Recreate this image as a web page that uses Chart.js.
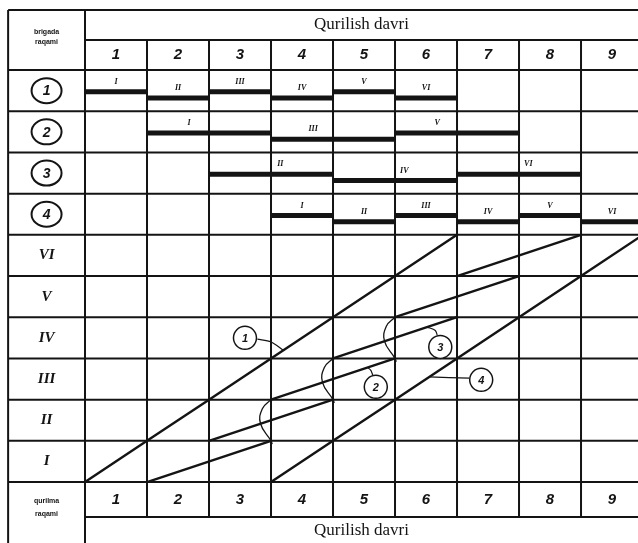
<!DOCTYPE html>
<html lang="uz">
<head>
<meta charset="UTF-8">
<title>Qurilish davri</title>
<style>
  html, body { margin: 0; padding: 0; background: #fff; overflow: hidden; }
  #wrap { width: 638px; height: 543px; }
</style>
</head>
<body>
<div id="wrap"><canvas id="cyclo"></canvas></div>
<script src="https://cdn.jsdelivr.net/npm/chart.js@4/dist/chart.umd.min.js"></script>
<script>
// davrlar, obyektlar, brigadalar
const periods = ['1', '2', '3', '4', '5', '6', '7', '8', '9'];
const objects = ['I', 'II', 'III', 'IV', 'V', 'VI'];
const brigades = ['1', '2', '3', '4'];

// har bir brigada ishi: [boshlanish, tugash] (davr chegaralari) va obyekt raqami
const brig1Work = [[0, 1], [1, 2], [2, 3], [3, 4], [4, 5], [5, 6]];
const brig1Obj = [1, 2, 3, 4, 5, 6];
const brig2Work = [[1, 3], [3, 5], [5, 7]];
const brig2Obj = [1, 3, 5];
const brig3Work = [[2, 4], [4, 6], [6, 8]];
const brig3Obj = [2, 4, 6];
const brig4Work = [[3, 4], [4, 5], [5, 6], [6, 7], [7, 8], [8, 9]];
const brig4Obj = [1, 2, 3, 4, 5, 6];

// ko'rinib turgan o'tish qavslari: brigada, davr
const jumpBrig = [2, 3, 2];
const jumpAt = [3, 4, 5];

// siklogramma belgilari (brigada raqami, qaysi ish)
const markBrig = ['1', '3', '2', '4'];
const markWork = [3, 1, 1, 2];

const works = [brig1Work, brig2Work, brig3Work, brig4Work];
const objs = [brig1Obj, brig2Obj, brig3Obj, brig4Obj];

// jadval chegaralari (o'q birliklarida)
const T_LEFT = -1.24, T_RIGHT = 9.2;
const Y_TOP = 11.46, Y_TITLE = 10.73, Y_HEAD = 10, Y_BNUM = -0.85, Y_BOT = -1.7;
const INK = '#141414';
// Gantt yozuvlari ish boshidan qancha siljigan
const labelShift = [0.5, 0.68, 1.15, 0.5];

// Gantt chiziqlari
const ganttSets = works.map((w, b) => {
  const rowBase = Y_HEAD - 1 - b;
  const pts = [];
  w.forEach((p, i) => {
    const yy = rowBase + (i % 2 === 0 ? 0.47 : 0.32);
    pts.push({x: p[0], y: yy}, {x: p[1], y: yy}, {x: p[1], y: null});
  });
  return {data: pts, borderColor: INK, borderWidth: 5, pointRadius: 0, spanGaps: false, borderCapStyle: 'butt'};
});

// siklogramma chiziqlari
const cycloSets = works.map((w, b) => {
  const pts = [];
  w.forEach((p, i) => {
    const o = objs[b][i];
    if (i > 0 && objs[b][i - 1] !== o - 1) pts.push({x: p[0], y: null});
    pts.push({x: p[0], y: o - 1}, {x: p[1], y: o});
  });
  return {data: pts, borderColor: INK, borderWidth: 2.4, pointRadius: 0, spanGaps: false};
});

// o'tish qavslari
const bracketSets = jumpAt.map((t, k) => {
  const b = jumpBrig[k] - 1;
  const i = works[b].findIndex(p => p[1] === t);
  const a = objs[b][i], c = objs[b][i + 1] - 1;
  return {
    data: [{x: t + 0.02, y: a - 0.08}, {x: t, y: a}, {x: t - 0.17, y: a + 0.42}, {x: t - 0.14, y: a + 0.78}, {x: t, y: c}],
    borderColor: INK, borderWidth: 1.3, pointRadius: 0, tension: 0.45
  };
});

// belgilarning joylashuvi (doira markazi) va ko'rsatkich chiziqlar
const markPos = [[2.58, 3.5], [5.73, 3.28], [4.69, 2.31], [6.39, 2.48]];
const markHit = [3.2, 5.52, 4.56, 5.55];
const leaderSets = markPos.map((m, k) => {
  const b = Number(markBrig[k]) - 1;
  const p = works[b][markWork[k]];
  const o = objs[b][markWork[k]];
  // chiziq ustidagi nuqta
  const tt = markHit[k];
  const yy = (o - 1) + (tt - p[0]) / (p[1] - p[0]);
  let pts;
  if (k === 0) pts = [{x: m[0] + 0.2, y: m[1] - 0.03}, {x: m[0] + 0.42, y: m[1] - 0.1}, {x: tt, y: yy}];
  else if (k === 3) pts = [{x: m[0] - 0.19, y: m[1] + 0.04}, {x: tt, y: yy}];
  else pts = [{x: m[0] - 0.05, y: m[1] + 0.29}, {x: m[0] - 0.08, y: m[1] + 0.4}, {x: tt, y: yy}];
  return {data: pts, borderColor: INK, borderWidth: 1.2, pointRadius: 0, tension: 0.3};
});

const tablePlugin = {
  id: 'table',
  beforeDatasetsDraw(chart) {
    const {ctx, scales: {x, y}} = chart;
    const X = v => x.getPixelForValue(v), Y = v => y.getPixelForValue(v);
    const seg = (x1, y1, x2, y2) => {
      ctx.beginPath(); ctx.moveTo(X(x1), Y(y1)); ctx.lineTo(X(x2), Y(y2)); ctx.stroke();
    };
    ctx.save();
    ctx.fillStyle = '#fff';
    ctx.fillRect(0, 0, chart.width, chart.height);
    ctx.strokeStyle = INK;
    ctx.lineWidth = 2;
    seg(T_LEFT, Y_TOP, T_RIGHT, Y_TOP);
    seg(0, Y_TITLE, T_RIGHT, Y_TITLE);
    for (let r = 0; r <= 10; r++) seg(T_LEFT, r, T_RIGHT, r);
    seg(0, Y_BNUM, T_RIGHT, Y_BNUM);
    seg(T_LEFT, Y_TOP, T_LEFT, Y_BOT);
    seg(0, Y_TOP, 0, Y_BOT);
    for (let c = 1; c <= periods.length; c++) seg(c, Y_TITLE, c, Y_BNUM);
    ctx.restore();
  },
  afterDatasetsDraw(chart) {
    const {ctx, scales: {x, y}} = chart;
    const X = v => x.getPixelForValue(v), Y = v => y.getPixelForValue(v);
    ctx.save();
    ctx.fillStyle = INK;
    ctx.strokeStyle = INK;
    ctx.textAlign = 'center';
    ctx.textBaseline = 'middle';
    const midTbl = (0 + x.max) / 2;
    ctx.font = '17px "Liberation Serif"';
    ctx.fillText('Qurilish davri', X(midTbl), Y((Y_TOP + Y_TITLE) / 2));
    ctx.fillText('Qurilish davri', X(midTbl), Y(Y_BNUM - 0.33));
    ctx.font = 'italic 600 15px "Liberation Sans"';
    periods.forEach((p, i) => {
      ctx.fillText(p, X(i + 0.5), Y((Y_TITLE + Y_HEAD) / 2));
      ctx.fillText(p, X(i + 0.5), Y(Y_BNUM / 2));
    });
    const cx = X(T_LEFT / 2);
    // chap ustun
    ctx.font = 'bold 7px "Liberation Sans"';
    ctx.fillText('brigada', cx, Y(10.93));
    ctx.fillText('raqami', cx, Y(10.68));
    ctx.fillText('qurilma', cx, Y(-0.45));
    ctx.fillText('raqami', cx, Y(-0.78));
    brigades.forEach((b, i) => {
      const cy = Y(Y_HEAD - 0.5 - i);
      ctx.lineWidth = 2;
      ctx.beginPath(); ctx.ellipse(cx, cy, 15, 12.5, 0, 0, Math.PI * 2); ctx.stroke();
      ctx.font = 'italic bold 14px "Liberation Sans"';
      ctx.fillText(b, cx, cy + 1);
    });
    ctx.font = 'italic bold 15px "Liberation Serif"';
    objects.forEach((o, i) => ctx.fillText(o, cx, Y(i + 0.5)));
    // Gantt belgilari
    ctx.font = 'italic bold 8px "Liberation Serif"';
    works.forEach((w, b) => {
      const rowBase = Y_HEAD - 1 - b;
      w.forEach((p, i) => {
        const yy = rowBase + (i % 2 === 0 ? 0.47 : 0.32);
        ctx.fillText(objects[objs[b][i] - 1], X(p[0] + labelShift[b]), Y(yy + 0.24));
      });
    });
    // siklogramma doiralari
    markPos.forEach((m, k) => {
      const px = X(m[0]), py = Y(m[1]);
      ctx.fillStyle = '#fff';
      ctx.beginPath(); ctx.arc(px, py, 11.5, 0, Math.PI * 2); ctx.fill();
      ctx.lineWidth = 1.5;
      ctx.beginPath(); ctx.arc(px, py, 11.5, 0, Math.PI * 2); ctx.stroke();
      ctx.fillStyle = INK;
      ctx.font = 'italic bold 11px "Liberation Sans"';
      ctx.fillText(markBrig[k], px, py + 1);
    });
    ctx.restore();
  }
};

new Chart(document.getElementById('cyclo'), {
  type: 'line',
  data: {datasets: [...ganttSets, ...cycloSets, ...bracketSets, ...leaderSets]},
  options: {
    responsive: true,
    maintainAspectRatio: false,
    animation: false,
    layout: {padding: 0},
    plugins: {legend: {display: false}, tooltip: {enabled: false}},
    scales: {
      x: {type: 'linear', min: -1.371, max: 8.919, display: false},
      y: {type: 'linear', min: -1.48, max: 11.70, display: false}
    }
  },
  plugins: [tablePlugin]
});
</script>
</body>
</html>
